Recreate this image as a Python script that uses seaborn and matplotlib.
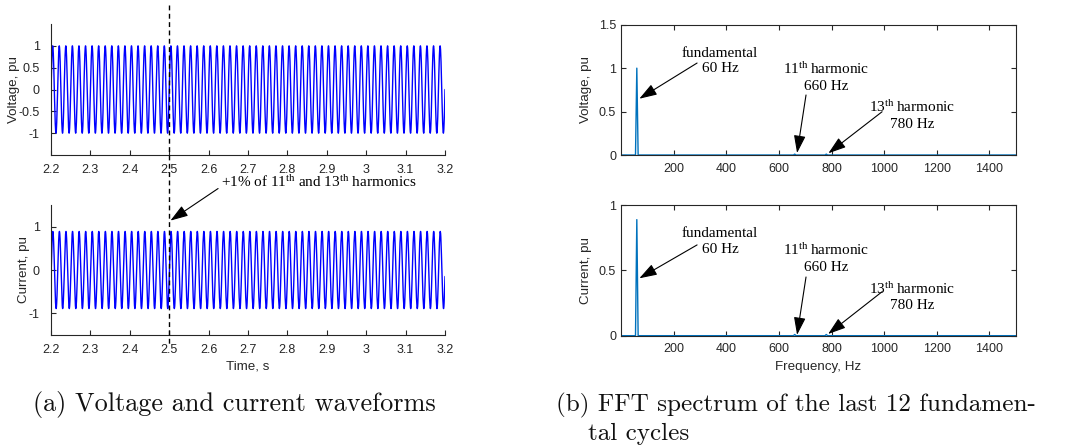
import numpy as np
import matplotlib
matplotlib.use("Agg")
import matplotlib.pyplot as plt
import matplotlib.transforms as mtransforms
from matplotlib.lines import Line2D
import seaborn as sns

# ---- signal description -------------------------------------------------
f_fund = 60.0                 # fundamental frequency, Hz
fs = 12000.0                  # sampling rate, samples/s
t_start, t_end = 2.2, 3.2     # simulated window, s
t_step = 2.5                  # instant the harmonics are injected, s
harmonic_orders = [1, 11, 13]
voltage_amps = [1.0, 0.01, 0.01]
current_amps = [0.89, 0.0089, 0.0089]
current_phase = -0.15         # rad, current relative to voltage
fft_cycles = 12               # cycles used for the spectrum

time_ticks = [2.2, 2.3, 2.4, 2.5, 2.6, 2.7, 2.8, 2.9, 3.0, 3.1, 3.2]
time_ticklabels = ["2.2", "2.3", "2.4", "2.5", "2.6", "2.7", "2.8", "2.9", "3", "3.1", "3.2"]
volt_ticks = [-1, -0.5, 0, 0.5, 1]
volt_ticklabels = ["-1", "-0.5", "0", "0.5", "1"]
curr_ticks = [-1, 0, 1]
curr_ticklabels = ["-1", "0", "1"]
freq_ticks = [200, 400, 600, 800, 1000, 1200, 1400]
spec_v_ticks = [0, 0.5, 1, 1.5]
spec_v_ticklabels = ["0", "0.5", "1", "1.5"]
spec_i_ticks = [0, 0.5, 1]
spec_i_ticklabels = ["0", "0.5", "1"]

# ---- build waveforms ----------------------------------------------------
t = t_start + np.arange(int(round((t_end - t_start) * fs)) + 1) / fs


def synthesize(amps, phase):
    sig = amps[0] * np.sin(2 * np.pi * f_fund * t + phase)
    for h, a in zip(harmonic_orders[1:], amps[1:]):
        sig = sig + np.where(t >= t_step, a * np.sin(2 * np.pi * h * f_fund * t + h * phase), 0.0)
    return sig


voltage = synthesize(voltage_amps, 0.0)
current = synthesize(current_amps, current_phase)


def spectrum(sig):
    n = int(round(fft_cycles / f_fund * fs))
    seg = sig[-n:]
    mag = np.abs(np.fft.rfft(seg)) * 2.0 / n
    mag[0] /= 2.0
    freq = np.fft.rfftfreq(n, 1.0 / fs)
    keep = freq <= 1500
    return freq[keep], mag[keep]


fv, sv = spectrum(voltage)
fi, si = spectrum(current)

# ---- styling ------------------------------------------------------------
sns.set_theme(style="white")
plt.rcParams["font.family"] = ["Liberation Sans", "DejaVu Sans"]
plt.rcParams["mathtext.fontset"] = "custom"
plt.rcParams["mathtext.rm"] = "Liberation Serif"
plt.rcParams["mathtext.it"] = "Liberation Serif:italic"

AX_COL = "#262626"
WAVE_COL = "#0000FF"
SPEC_COL = "#0072BD"
SERIF = ["Liberation Serif", "DejaVu Serif"]
TICK_FS = 9.0
LABEL_FS = 9.6
ANN_FS = 11

fig = plt.figure(figsize=(10.7, 4.48), dpi=100)
ax_v = fig.add_axes([0.0477, 0.654, 0.3682, 0.2924])
ax_i = fig.add_axes([0.0477, 0.2522, 0.3682, 0.2902])
ax_sv = fig.add_axes([0.5804, 0.654, 0.3689, 0.2908])
ax_si = fig.add_axes([0.5804, 0.2507, 0.3689, 0.2911])


def style_axes(ax, box, xpad, ypad):
    for side in ["left", "bottom", "top", "right"]:
        sp = ax.spines[side]
        sp.set_color(AX_COL)
        sp.set_linewidth(0.8)
        if not box and side in ("top", "right"):
            sp.set_visible(False)
    ax.tick_params(direction="in", length=3.5, width=0.8, colors=AX_COL,
                   labelsize=TICK_FS, labelcolor=AX_COL,
                   top=box, right=box, bottom=True, left=True,
                   labeltop=False, labelright=False)
    ax.tick_params(axis="x", pad=xpad)
    ax.tick_params(axis="y", pad=ypad)
    ax.set_facecolor("none")
    ax.grid(False)


# time-domain waveforms
sns.lineplot(x=t, y=voltage, ax=ax_v, color=WAVE_COL, lw=1.0, estimator=None, sort=False)
sns.lineplot(x=t, y=current, ax=ax_i, color=WAVE_COL, lw=1.0, estimator=None, sort=False)
for ax, yt, ytl, lab in [(ax_v, volt_ticks, volt_ticklabels, "Voltage, pu"),
                         (ax_i, curr_ticks, curr_ticklabels, "Current, pu")]:
    style_axes(ax, box=False, xpad=6.5, ypad=8.0)
    ax.set_xlim(t_start, t_end)
    ax.set_ylim(-1.5, 1.5)
    ax.set_xticks(time_ticks, time_ticklabels)
    ax.set_yticks(yt, ytl)
    ax.set_ylabel(lab, fontsize=LABEL_FS, color=AX_COL)
ax_v.yaxis.set_label_coords(-0.080, 0.5)
ax_i.yaxis.set_label_coords(-0.053, 0.5)
ax_i.set_xlabel("Time, s", fontsize=LABEL_FS, color=AX_COL, labelpad=3)

# frequency-domain spectra
sns.lineplot(x=fv, y=sv, ax=ax_sv, color=SPEC_COL, lw=1.0, estimator=None, sort=False)
sns.lineplot(x=fi, y=si, ax=ax_si, color=SPEC_COL, lw=1.0, estimator=None, sort=False)
for ax, ylim, yt, ytl, lab in [(ax_sv, 1.5, spec_v_ticks, spec_v_ticklabels, "Voltage, pu"),
                               (ax_si, 1.0, spec_i_ticks, spec_i_ticklabels, "Current, pu")]:
    style_axes(ax, box=True, xpad=5.5, ypad=3.5)
    ax.set_xlim(0, 1500)
    ax.set_ylim(0, ylim)
    ax.set_xticks(freq_ticks, [str(v) for v in freq_ticks])
    ax.set_yticks(yt, ytl)
    ax.set_ylabel(lab, fontsize=LABEL_FS, color=AX_COL)
    ax.yaxis.set_label_coords(-0.073, 0.5)
ax_si.set_xlabel("Frequency, Hz", fontsize=LABEL_FS, color=AX_COL, labelpad=4)

# step instant marker spanning both waveform panels
blend = mtransforms.blended_transform_factory(ax_v.transData, fig.transFigure)
fig.add_artist(Line2D([t_step, t_step], [(448 - 5) / 448, (448 - 346) / 448],
                      transform=blend, color="black", lw=1.0,
                      linestyle=(0, (3.5, 2.5)), zorder=10))

ARROW = dict(arrowstyle="-|>,head_length=0.9,head_width=0.3", color="black",
             lw=0.8, shrinkA=0, shrinkB=0)

# injected-harmonics note
ax_i.text(2.631, 2.02, r"+1% of 11$^{\mathrm{th}}$ and 13$^{\mathrm{th}}$ harmonics",
          fontsize=ANN_FS, family=SERIF, ha="left", va="center", color="black")
ax_i.annotate("", xy=(t_step + 0.003, 1.14), xytext=(2.624, 1.88),
              arrowprops=ARROW, annotation_clip=False)

# spectrum notes
notes = {
    ax_sv: [("fundamental\n60 Hz", (376, 1.082), (289, 1.059), (69.5, 0.648)),
            ("11$^{\\mathrm{th}}$\u2009harmonic\n660 Hz", (779, 0.898), (703, 0.691), (669, 0.023)),
            ("13$^{\\mathrm{th}}$\u2009harmonic\n780 Hz", (1106, 0.460), (992, 0.498), (788, 0.020))],
    ax_si: [("fundamental\n60 Hz", (376, 0.724), (289, 0.696), (69.5, 0.440)),
            ("11$^{\\mathrm{th}}$\u2009harmonic\n660 Hz", (779, 0.596), (703, 0.450), (669, 0.006)),
            ("13$^{\\mathrm{th}}$\u2009harmonic\n780 Hz", (1106, 0.299), (992, 0.337), (787, 0.013))],
}
for ax, items in notes.items():
    for label, txy, tail, head in items:
        ax.text(*txy, label, fontsize=ANN_FS, family=SERIF, ha="center", va="center",
                multialignment="center", linespacing=1.25, color="black")
        ax.annotate("", xy=head, xytext=tail, arrowprops=ARROW, annotation_clip=False)

# sub-figure captions
CAP = dict(family=["cmr10", "DejaVu Serif"], color="#111111", va="baseline", ha="left")
fig.text(33 / 1070, (448 - 411) / 448, "(a) Voltage and current waveforms", fontsize=18.9, **CAP)
fig.text(556 / 1070, (448 - 411) / 448, "(b) FFT spectrum of the last 12 fundamen-", fontsize=18.1, **CAP)
fig.text(588 / 1070, (448 - 440) / 448, "tal cycles", fontsize=18.1, **CAP)

fig.savefig("out.png", dpi=100)
